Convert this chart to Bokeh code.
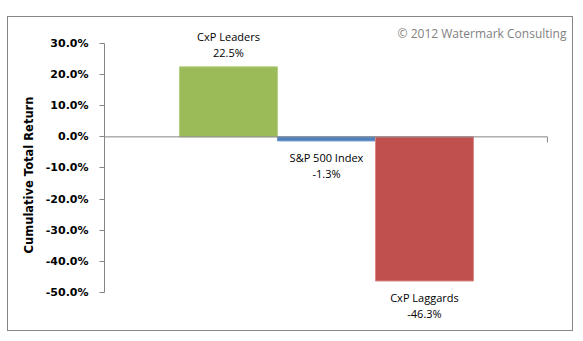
from bokeh.plotting import figure
from bokeh.models import (ColumnDataSource, Label, Range1d, PrintfTickFormatter, FixedTicker)
from bokeh.embed import file_html
from bokeh.resources import INLINE
from bokeh.core.properties import value

# ---- data ----
names = ["CxP Leaders", "S&P 500 Index", "CxP Laggards"]
returns = [22.5, -1.3, -46.3]
colors = ["#9BBB59", "#4F81BD", "#C0504D"]
edge_colors = ["#B5CF84", "#6F99CC", "#D98785"]
y_ticks = [-50, -40, -30, -20, -10, 0, 10, 20, 30]
positions = [1, 2, 3]
credit = "\u00a9 2012 Watermark Consulting"
y_title = "Cumulative Total Return"

labels = [f"{n}\n{v:.1f}%" for n, v in zip(names, returns)]
src = ColumnDataSource(dict(x=positions, top=returns, color=colors, edge=edge_colors))
pos = ColumnDataSource(dict(x=[x for x, v in zip(positions, returns) if v >= 0],
                            y=[v for v in returns if v >= 0],
                            label=[l for l, v in zip(labels, returns) if v >= 0]))
neg = ColumnDataSource(dict(x=[x for x, v in zip(positions, returns) if v < 0],
                            y=[v for v in returns if v < 0],
                            label=[l for l, v in zip(labels, returns) if v < 0]))

axis_end = 4.255  # right end of category axis (data units)

p = figure(width=566, height=315, output_backend="svg", toolbar_location=None,
           x_range=Range1d(-0.265, 4.531), y_range=Range1d(-62.85, 38.35),
           min_border_left=96, min_border_right=0, min_border_top=0, min_border_bottom=0,
           margin=(16, 0, 0, 7))
p.styles = {"border": "1px solid #868686"}
p.background_fill_color = "white"
p.border_fill_color = "white"
p.outline_line_color = None
p.grid.visible = False
p.xaxis.visible = False

axis_gray = "#868686"
ya = p.yaxis[0]
ya.bounds = (y_ticks[0], y_ticks[-1])
ya.ticker = FixedTicker(ticks=y_ticks)
ya.formatter = PrintfTickFormatter(format="%.1f%%")
ya.axis_line_color = axis_gray
ya.major_tick_line_color = axis_gray
ya.major_tick_out = 5
ya.major_tick_in = 0
ya.minor_tick_line_color = None
ya.major_label_text_font = "DejaVu Sans"
ya.major_label_text_font_style = "bold"
ya.major_label_text_font_size = "11px"
ya.major_label_text_color = "black"
ya.major_label_standoff = 11
ya.axis_label = y_title
ya.axis_label_text_font = "DejaVu Sans"
ya.axis_label_text_font_style = "bold"
ya.axis_label_text_font_size = "11.5px"
ya.axis_label_text_color = "black"
ya.axis_label_standoff = 7

p.vbar(x="x", top="top", bottom=0, width=1, source=src, fill_color="color", line_color="edge", line_width=1)

# category axis crossing at zero, with its end tick
p.segment(x0=[p.x_range.start], x1=[axis_end], y0=[0], y1=[0], line_color=axis_gray, line_width=1)
p.segment(x0=[axis_end], x1=[axis_end], y0=[0], y1=[-1.8], line_color=axis_gray, line_width=1)

common = dict(text="label", text_align="center", text_font=value("Open Sans"),
              text_font_size="11px", text_color="black", text_line_height=1.05)
p.text(x="x", y="y", source=pos, text_baseline="bottom", y_offset=-7, **common)
p.text(x="x", y="y", source=neg, text_baseline="top", y_offset=9, **common)

p.add_layout(Label(x=axis_end, y=33.2, x_offset=19, text=credit, text_align="right",
                   text_baseline="middle", text_font="Open Sans", text_font_size="12px",
                   text_color="#7F7F7F"))

open("out.html", "w").write(file_html(p, INLINE))
